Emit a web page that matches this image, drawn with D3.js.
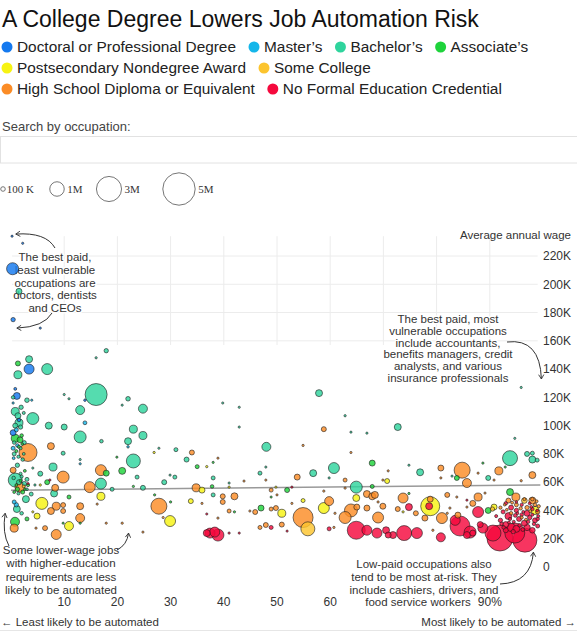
<!DOCTYPE html>
<html>
<head>
<meta charset="utf-8">
<script src="https://cdn.jsdelivr.net/npm/d3@7"></script>
<style>
body { margin: 0; background: #fff; }
svg { display: block; font-family: "Liberation Sans", Arial, Helvetica, sans-serif; }
</style>
</head>
<body>
<div id="chart"></div>
<script>
// education levels and their colours
const categories = ["Doctoral or Professional Degree", "Master\u2019s", "Bachelor\u2019s", "Associate\u2019s",
    "Postsecondary Nondegree Award", "Some College", "High School Diploma or Equivalent", "No Formal Education Credential"];
const colors = ["#1479ef", "#14b6ea", "#2fd49d", "#1ed33b", "#f7f312", "#fcc42e", "#fb8c26", "#f5093d"];

// each row: [probability of automation %, average annual wage $K, workers K]
const doctoral = [[0.2,234,15],[2.2,229,20],[0.3,211,690],[0.4,175,90],[5.5,169,15],[3.4,140,480],[1.1,121,230],
    [0.4,95,170],[13.9,118,30],[0.8,126,40],[1.5,104,60]];
const masters = [[3.9,118,20],[0.4,116,25],[13.9,102,70],[22,85,30],[13,73,25],[0.4,84,76],[0.6,46,76],[1,97,76],
    [1.2,86,60],[1,44,90],[0.5,77,40]];
const bachelors = [[1.5,195,171],[17.9,153,90],[16,148,25],[3.4,147,233],[1.3,136,305],[6.8,140,576],[16,122,2305],
    [3,118,100],[22,119,100],[24.8,112,386],[13,111,386],[0.8,110,305],[4.1,105,686],[1.3,107,171],[1.5,102,305],
    [7.1,100,233],[10,99,171],[23,97.5,305],[13,92,686],[24.8,93,305],[22,89,233],[17,89,60],[9.8,80.5,76],[23,75,933],
    [33,76,119],[31,83,76],[7.9,70.7,305],[5.5,66,119],[16.9,59,576],[0.8,61.5,933],[4.5,58,25],[8.1,52,233],[19,55,76],
    [24.8,56,119],[23.7,63.6,76],[28.8,60,119],[30.8,63.6,76],[2.8,48,233],[3.8,51.6,76],[1.1,41,233],
    [57.9,123,233],[62.8,107,25],[48,85,386],[60.7,70,576],[56.8,66.4,233],[46.8,66.4,76],[38,63,76],[38,51,76],
    [64.9,56.5,686],[72.7,99,233],[93.8,77,1072],[97,80,119],[98,80.5,76],[98,76,233],[98.9,75.6,76],[76.9,67,233],
    [89.7,63,119],[10,122,20],[10.9,119,20],[20.9,114.5,20],[4.1,70,20],[13,76,20],[27.8,84,20],[29.9,65,20],
    [39.8,116,20],[42.9,113,20],[42.9,99,20],[63.9,95.4,20],[66.9,94.7,20],[59.8,63,20],[47.9,70.7,20],[41,59.4,20],
    [94.7,91,20],[74.8,72,20],[82.9,64.3,20],[95.9,127,20],[1.5,60,120],[2.5,59,90],[3,62,76],[2,64,45],[0.5,63,60],
    [1.8,66,45],[0.8,100,120],[1.8,99,90],[2.5,88,76],[2,38,60],[1.2,72,90],[2.2,76,60],[0.6,80,76],
    [0.6,88,60],[1.8,84,45],[2.4,80,40],[1.4,78,50],[1.4,52,45],[3,55,35],[0.4,120,60],[1.9,113,90],[2.4,109,45]];
const associates = [[1.3,144,119],[0.8,91,305],[1.7,90,171],[17.9,66.4,171],[20.9,68,233],[6.8,60,119],[23,57,25],
    [27,51,25],[30,46,25],[35,71,76],[10.9,49.5,76],[3,34,76],[0.75,32,386],[13,31,25],[67.9,73.5,171],[51.9,54.4,119],
    [37.8,57,60],[67.9,57,76],[47,41.7,171],[42,39,25],[83.8,63,119],[88.7,73.5,25],[93.8,53,233],[74.8,52,25],
    [89.7,40,171],[19.9,77.7,20],[9.8,31,20],[38,74,20],[48.9,49.5,20],[92.9,70.7,20],[2,93,60],[1.2,55,90],
    [2.2,53,76],[3.2,58,50],[1.5,85,50],[2.6,68,40],[1,82,45],[2.1,87,35],[1,58,35],[1.8,61,40],[2.6,55,30],[0.6,53,40]];
const postsecondary = [[26.9,81,25],[5.5,58,25],[16.9,50,305],[29.9,32.5,576],[5.8,45,686],[4.9,36,171],[10.9,29,386],
    [33.8,46.6,119],[35.9,54.4,171],[36.8,71,25],[41,56.5,25],[54.9,47,76],[64.9,48.8,233],[50.9,38,305],[58.8,41.7,576],
    [78.8,43,1719],[70.7,60.8,119],[90.8,42.4,171],[73.7,39,25],[98.5,40,305],[4.1,39,20],[49.8,56.5,20]];
const someCollege = [[55.8,27,933],[96.5,47,150],[2.4,57,40],[90.5,41,90]];
const highSchool = [[3.2,81,1543],[7.5,85.5,233],[34,81,119],[0.4,68.5,171],[16.9,68.5,576],[9.8,63.6,686],
    [14.8,56.5,576],[1.7,56.5,476],[8.3,56,233],[34.8,56,305],[27.8,43,1219],[0.6,27.5,305],[7.5,39.6,233],[8.5,43,305],
    [9.8,43.8,119],[9.8,39.6,119],[13,43,233],[13,34.6,386],[8.5,23,476],[6.4,27.5,119],[4.7,27.5,25],[20.9,31,25],
    [58.8,97.5,119],[54.9,86,25],[53.8,63.6,171],[62.8,61.5,76],[58.8,53.7,25],[62.8,55.8,25],[39.8,50,119],[42,50,233],
    [39.8,46,119],[48.9,54.4,76],[59.8,46.6,386],[66.9,51.6,233],[67.9,50,233],[69,46,25],[41,39.6,76],[38.9,34.6,25],
    [45.9,38.9,119],[48.9,41,76],[49.8,41.7,119],[54.9,35,1905],[60.9,38,25],[60.7,28,25],[63.9,40,805],[62.8,35,686],
    [65,42.4,171],[66.9,41.7,171],[69,35,576],[50.9,30,119],[46.8,28,76],[47.9,29.7,119],
    [84.8,68.5,1219],[80.8,70,171],[91.7,68,305],[98,65,233],[85.7,59.4,386],[95.9,61,25],[94.9,49.5,305],
    [87.8,49.5,305],[73.7,48.8,476],[68.4,51,233],[78.8,48,171],[82,51,119],[69.9,43,171],[81,34.6,576],[72.7,41,119],
    [76.1,38,119],[77.8,34.6,171],[82.5,41.7,25],[84,36.7,171],[86.8,45,171],[98,47,233],[79.3,26,25],
    [16.2,44.5,20],[17.9,31,20],[24.8,24.7,20],[28.6,35,20],[63.9,81,20],[38.9,77,20],[43.8,60.8,20],[47.9,61.5,20],
    [35.9,45,20],[50,51,20],[52.8,45,20],[44.9,39.6,20],[70.9,68,20],[87.8,66.4,20],[80.8,63,20],[69.9,61.5,20],
    [90.8,61.5,20],[89.1,52.3,20],[83.8,49.5,20],[82,38,20],[85.7,42.4,20],
    [93.5,47,119],[95,44,76],[97,42,90],[98.5,44,60],[94,38,60],[96,35,45],[99,39,90],[92,42,50],[96.5,48,45],[98,48,60],
    [94.2,45.5,40],[95.8,41.5,55],[97.6,39.5,45],[99.2,43,50],[93.2,40.5,35],[96.8,33.5,40],[92.8,44,30],[98.8,46.5,40]];
const noFormal = [[7.3,61.5,25],[52.8,56.5,25],[37.4,24,476],[38.3,24.7,476],[38.9,22.6,686],[36.8,24,233],[41,24,25],
    [48.9,28,76],[59.8,27,76],[64.9,26,1543],[66.9,26,476],[68.8,24,476],[70.5,26,233],[73.9,24,1072],[76.3,24,576],
    [80.8,21,386],[78.6,43,233],[74.8,42.4,233],[87.8,38.9,576],[84.4,29,1905],[86.3,24.7,686],[83.5,33,476],
    [85.7,22.6,233],[86.8,24,171],[70.9,22.6,171],[71.8,22.6,233],[88.2,30,171],[88.7,27.5,476],[91.9,20.5,3219],
    [96.6,19,2743],[94.7,24,1905],[90.6,24,1219],[36.8,37.5,20],[51.9,25.4,20],[42.9,24,20],[85.7,47.3,20],
    [93,45,60],[94,42,120],[95,40,90],[96,44,50],[97,38,170],[98,41,60],[93.5,36,233],[95.5,34,119],[96.5,31,171],
    [97.5,35,90],[98.5,33,119],[93,30,171],[94,28,305],[95,27,233],[97,28,200],[98,26,150],[99,29,76],[92,33,90],
    [96,37,60],[94.5,32,45],[93,26,119],[98,37,45],[99,34,60],[92.5,39,76],[97.5,45,40],[95,46,30],
    [93.8,34,50],[94.8,36.5,70],[95.6,29.5,60],[96.3,39,40],[97.2,32,60],[98.3,30.5,55],[99.1,36,45],[92.6,28,60],
    [93.6,31.5,40],[95.2,38,35],[97.8,42.5,40],[98.9,40,35],[94.4,25,90],[96.2,26.5,70],[91.2,36,45],[92.2,30.5,60],
    [3.2,59,20]];

// fitted wage line, size key, axis ticks
const trendLine = [[0,54.3],[99.5,58]];
const sizeKey = [100, 1000, 3000, 5000];
const sizeKeyLabels = ["100 K", "1M", "3M", "5M"];
const wageTicks = [0,20,40,60,80,100,120,140,160,180,200,220];
const gridProb = [10,20,30,40,50,60,70,80,90];
const probTicks = [10,20,30,40,50,60,90];   // 70 and 80 sit under the note text

const W = 577, H = 631;
const svg = d3.select("#chart").append("svg").attr("width", W).attr("height", H);

const x = d3.scaleLinear().domain([0, 100]).range([11, 543]);
const y = d3.scaleLinear().domain([0, 220]).range([567, 256]);
const r = d3.scaleSqrt().domain([0, 5000]).range([0, 16.2]);

// title
svg.append("text").attr("x", 2).attr("y", 27).attr("font-size", 23).attr("fill", "#111")
    .text("A College Degree Lowers Job Automation Risk");

// colour legend, flowing left to right on three rows
const rows = [[0,1,2,3],[4,5],[6,7]];
rows.forEach((row, ri) => {
    let cx = 7;
    const cy = 47 + ri * 21;
    row.forEach(ci => {
        svg.append("circle").attr("cx", cx).attr("cy", cy).attr("r", 5.5).attr("fill", colors[ci]);
        const t = svg.append("text").attr("x", cx + 10).attr("y", cy + 5.4)
            .attr("font-size", 15.4).attr("fill", "#222").text(categories[ci]);
        cx += 10 + t.node().getComputedTextLength() + 18;
    });
});

// search box
svg.append("text").attr("x", 2).attr("y", 131).attr("font-size", 13).attr("fill", "#444").text("Search by occupation:");
svg.append("rect").attr("x", 0.5).attr("y", 136.5).attr("width", W + 2).attr("height", 26.5)
    .attr("fill", "#fff").attr("stroke", "#e2e2e2");

// bubble size key
const keyX = [3, 57, 109, 179];
sizeKey.forEach((v, i) => {
    svg.append("circle").attr("cx", keyX[i]).attr("cy", 189).attr("r", r(v))
        .attr("fill", "none").attr("stroke", "#666").attr("stroke-width", 0.9);
    svg.append("text").attr("x", keyX[i] + r(v) + (i ? 3 : 1.5)).attr("y", 193)
        .attr("font-family", "'Liberation Serif', 'Times New Roman', serif").attr("font-size", 11)
        .attr("fill", "#333").text(sizeKeyLabels[i]);
});

// faint grid in the upper part of the plot
const grid = svg.append("g").attr("stroke", "#ececec").attr("stroke-width", 1);
grid.selectAll("line.h").data([160,180,200,220]).join("line")
    .attr("x1", x(0.2)).attr("x2", x(99)).attr("y1", d => y(d)).attr("y2", d => y(d));
grid.selectAll("line.v").data(gridProb).join("line")
    .attr("x1", d => x(d)).attr("x2", d => x(d)).attr("y1", y(234)).attr("y2", y(157));

// y axis labels on the right
svg.append("text").attr("x", 571).attr("y", 239).attr("text-anchor", "end")
    .attr("font-size", 11.5).attr("fill", "#333").text("Average annual wage");
svg.selectAll("text.ytick").data(wageTicks).join("text").attr("class", "ytick")
    .attr("x", 543).attr("y", d => y(d) + 4.3).attr("font-size", 12).attr("fill", "#333")
    .text(d => d === 0 ? "0" : d + "K");

// x axis labels
svg.selectAll("text.xtick").data(probTicks).join("text").attr("class", "xtick")
    .attr("x", d => x(d)).attr("y", 606).attr("text-anchor", "middle").attr("font-size", 12).attr("fill", "#333")
    .text(d => d === 90 ? "90%" : d);

svg.append("text").attr("x", 1).attr("y", 626).attr("font-size", 11.5).attr("fill", "#333")
    .text("\u2190 Least likely to be automated");
svg.append("text").attr("x", 576).attr("y", 626).attr("text-anchor", "end").attr("font-size", 11.5).attr("fill", "#333")
    .text("Most likely to be automated \u2192");
svg.append("line").attr("x1", 0).attr("x2", W).attr("y1", 630.5).attr("y2", 630.5).attr("stroke", "#e6e6e6");

// annotations
const defs = svg.append("defs");
defs.append("marker").attr("id", "arr").attr("viewBox", "0 0 8 8").attr("refX", 6).attr("refY", 4)
    .attr("markerWidth", 7).attr("markerHeight", 7).attr("orient", "auto")
    .append("path").attr("d", "M1,1 L6,4 L1,7").attr("fill", "none").attr("stroke", "#333").attr("stroke-width", 1);

function note(cx, y0, lh, lines) {
    const t = svg.append("text").attr("text-anchor", "middle").attr("font-size", 11.5).attr("fill", "#333")
        .attr("stroke", "#fff").attr("stroke-width", 3).attr("paint-order", "stroke").attr("stroke-linejoin", "round");
    lines.forEach((s, i) => t.append("tspan").attr("x", Array.isArray(cx) ? cx[i] : cx).attr("y", y0 + i * lh).text(s));
}
function arrow(d) {
    svg.append("path").attr("d", d).attr("fill", "none").attr("stroke", "#333").attr("stroke-width", 1)
        .attr("marker-end", "url(#arr)");
}

note(55, 261, 12.8, ["The best paid,", "least vulnerable", "occupations are", "doctors, dentists", "and CEOs"]);
arrow(`M55,248 Q46,232 ${x(0.9)},${y(235.5)}`);
arrow(`M52,313 Q44,327 ${x(1.1)},${y(169)}`);

note(448, 323, 11.8, ["The best paid, most", "vulnerable occupations", "include accountants,", "benefits managers, credit",
    "analysts, and various", "insurance professionals"]);
arrow(`M507,342 Q540,338 ${x(99.7)},${y(133)}`);

note(61, 554, 13.4, ["Some lower-wage jobs", "with higher-education", "requirements are less", "likely to be automated"]);
arrow(`M117,550 Q127,545 ${x(22.1)},${y(24)}`);
arrow(`M9,546 Q2,533 ${x(-1.1)},${y(38)}`);

note([424, 424, 424, 418], 568, 12.8, ["Low-paid occupations also", "tend to be most at-risk. They",
    "include cashiers, drivers, and", "food service workers"]);
arrow(`M500,584 Q531,583 ${x(98.2)},${y(10.5)}`);

// average wage line
svg.append("path").datum(trendLine)
    .attr("d", d3.line().x(d => x(d[0])).y(d => y(d[1])))
    .attr("fill", "none").attr("stroke", "#999").attr("stroke-width", 1.5);

// bubbles, largest first so small ones stay visible
const groups = [doctoral, masters, bachelors, associates, postsecondary, someCollege, highSchool, noFormal];
const points = groups.flatMap((g, ci) => g.map(d => ({ p: d[0], w: d[1], n: d[2], c: ci })))
    .sort((a, b) => b.n - a.n);

svg.append("g").selectAll("circle").data(points).join("circle")
    .attr("cx", d => x(d.p)).attr("cy", d => y(d.w)).attr("r", d => Math.max(1.1, r(d.n)))
    .attr("fill", d => colors[d.c]).attr("fill-opacity", 0.82)
    .attr("stroke", "#1a1a1a").attr("stroke-opacity", 0.75).attr("stroke-width", 0.8);
</script>
</body>
</html>
